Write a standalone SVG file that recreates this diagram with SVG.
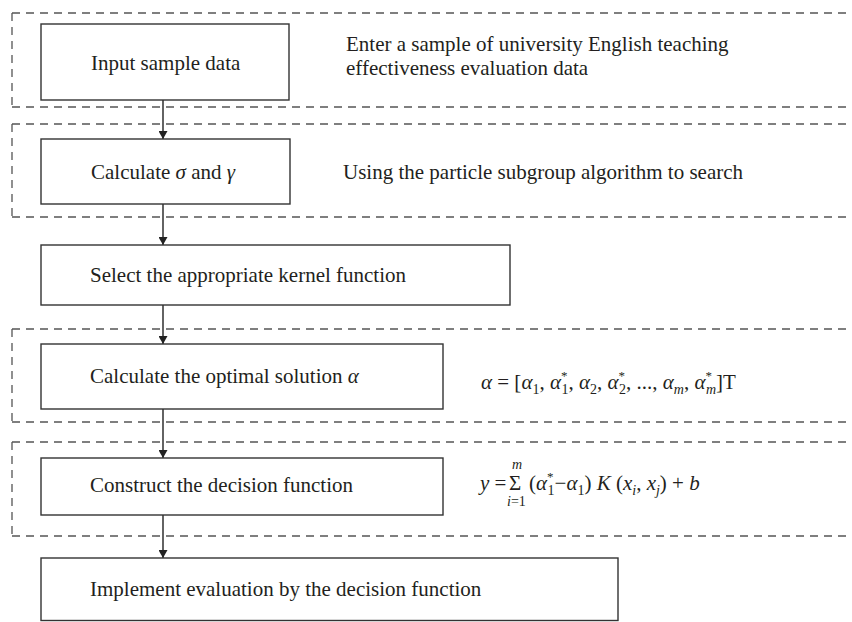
<svg xmlns="http://www.w3.org/2000/svg" width="852" height="622" viewBox="0 0 852 622">
  <style>
    .box { fill: #ffffff; stroke: #333333; stroke-width: 1.4; }
    .group { fill: none; stroke: #555555; stroke-width: 1.3; stroke-dasharray: 8 6; }
    .wire { fill: none; stroke: #222222; stroke-width: 1.4; }
    text { font-family: "Liberation Serif", "Times New Roman", serif; font-size: 21px; fill: #231f20; }
    .it { font-style: italic; }
    .sub { font-size: 14px; }
    .star { font-size: 13px; }
  </style>
  <defs>
    <marker id="arrow" viewBox="0 0 8 9" refX="8" refY="4.5" markerWidth="8" markerHeight="9" markerUnits="userSpaceOnUse" orient="auto">
      <path d="M0,0 L8,4.5 L0,9 Z" fill="#222222"/>
    </marker>
  </defs>

  <rect width="852" height="622" fill="#ffffff"/>

  <!-- dashed stage frames, open to the right -->
  <g id="stages">
    <path class="group" d="M12,13 H860 M12,13 V107 M12,107 H860"/>
    <path class="group" d="M12,124 H860 M12,124 V217 M12,217 H860"/>
    <path class="group" d="M12,329 H860 M12,329 V422 M12,422 H860"/>
    <path class="group" d="M12,442 H860 M12,442 V536 M12,536 H860"/>
  </g>

  <!-- connectors -->
  <g id="connectors">
    <line class="wire" x1="163" y1="100" x2="163" y2="139" marker-end="url(#arrow)"/>
    <line class="wire" x1="163" y1="204" x2="163" y2="245" marker-end="url(#arrow)"/>
    <line class="wire" x1="163" y1="305" x2="163" y2="344" marker-end="url(#arrow)"/>
    <line class="wire" x1="163" y1="409" x2="163" y2="458" marker-end="url(#arrow)"/>
    <line class="wire" x1="163" y1="515" x2="163" y2="558" marker-end="url(#arrow)"/>
  </g>

  <g id="input">
    <rect class="box" x="41" y="24" width="248" height="76"/>
    <text x="91" y="69.5">Input sample data</text>
  </g>
  <g id="input-note">
    <text x="346" y="51">Enter a sample of university English teaching</text>
    <text x="346" y="75">effectiveness evaluation data</text>
  </g>

  <g id="calc-params">
    <rect class="box" x="41" y="139" width="249" height="65"/>
    <text x="91" y="179">Calculate <tspan class="it">σ</tspan> and <tspan class="it">γ</tspan></text>
  </g>
  <g id="calc-params-note">
    <text x="343" y="179">Using the particle subgroup algorithm to search</text>
  </g>

  <g id="kernel">
    <rect class="box" x="41" y="245" width="469" height="60"/>
    <text x="90" y="282">Select the appropriate kernel function</text>
  </g>

  <g id="optimal">
    <rect class="box" x="41" y="344" width="402" height="65"/>
    <text x="90" y="382.5">Calculate the optimal solution <tspan class="it">α</tspan></text>
  </g>
  <g id="optimal-formula">
    <text x="481" y="389"><tspan class="it">α</tspan> = [<tspan class="it">α</tspan><tspan class="sub" dy="5">1</tspan><tspan dy="-5">, </tspan><tspan class="it">α</tspan><tspan class="star" dy="-9">*</tspan><tspan class="sub" dx="-6" dy="14">1</tspan><tspan dy="-5">, </tspan><tspan class="it">α</tspan><tspan class="sub" dy="5">2</tspan><tspan dy="-5">, </tspan><tspan class="it">α</tspan><tspan class="star" dy="-9">*</tspan><tspan class="sub" dx="-6" dy="14">2</tspan><tspan dy="-5">, ..., </tspan><tspan class="it">α</tspan><tspan class="sub it" dy="5">m</tspan><tspan dy="-5">, </tspan><tspan class="it">α</tspan><tspan class="star" dy="-9">*</tspan><tspan class="sub it" dx="-6" dy="14">m</tspan><tspan dy="-5">]T</tspan></text>
  </g>

  <g id="decision">
    <rect class="box" x="41" y="458" width="402" height="57"/>
    <text x="90" y="492">Construct the decision function</text>
  </g>
  <g id="decision-formula">
    <text x="480" y="490"><tspan class="it">y</tspan> =</text>
    <text x="509" y="490" font-size="19">Σ</text>
    <text class="sub it" x="512" y="469">m</text>
    <text class="sub" x="507" y="506"><tspan class="it">i</tspan>=1</text>
    <text x="529" y="490">(<tspan class="it">α</tspan><tspan class="star" dy="-9">*</tspan><tspan class="sub" dx="-6" dy="14">1</tspan><tspan dy="-5">−</tspan><tspan class="it">α</tspan><tspan class="sub" dy="5">1</tspan><tspan dy="-5">) </tspan><tspan class="it">K</tspan> (<tspan class="it">x</tspan><tspan class="sub it" dy="5">i</tspan><tspan dy="-5">, </tspan><tspan class="it">x</tspan><tspan class="sub it" dy="5">j</tspan><tspan dy="-5">) + </tspan><tspan class="it">b</tspan></text>
  </g>

  <g id="evaluate">
    <rect class="box" x="41" y="558" width="577" height="62.5"/>
    <text x="90" y="596">Implement evaluation by the decision function</text>
  </g>
</svg>
